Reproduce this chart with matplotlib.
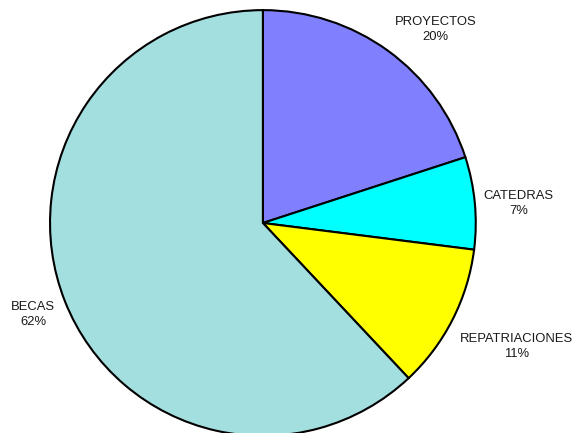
import matplotlib.pyplot as plt

categorias = ['PROYECTOS', 'CATEDRAS', 'REPATRIACIONES', 'BECAS']
porcentajes = [20, 7, 11, 62]
colores = ['#8080FF', '#00FFFF', '#FFFF00', '#A4DFE0']

# posiciones de las etiquetas (en unidades del radio)
pos_etiquetas = [(0.81, 0.91), (1.20, 0.09), (1.19, -0.58), (-1.08, -0.43)]

plt.rcParams['font.family'] = ['Liberation Sans', 'DejaVu Sans']

fig = plt.figure(figsize=(5.73, 4.33), dpi=100)
ax = fig.add_axes([0.0873, -0.007, 0.743, 0.984])

wedges, _ = ax.pie(porcentajes, colors=colores, startangle=90, counterclock=False,
                   radius=1, wedgeprops={'edgecolor': 'black', 'linewidth': 1.5})
for w in wedges:
    w.set_clip_on(False)

for nombre, valor, (x, y) in zip(categorias, porcentajes, pos_etiquetas):
    ax.text(x, y, nombre + '\n' + str(valor) + '%', ha='center', va='center',
            fontsize=9.4, linespacing=1.35, color='#1a1a1a', clip_on=False)

ax.set_xlim(-1, 1)
ax.set_ylim(-1, 1)
ax.set_aspect('equal')
ax.axis('off')

fig.savefig('out.png', dpi=100)
